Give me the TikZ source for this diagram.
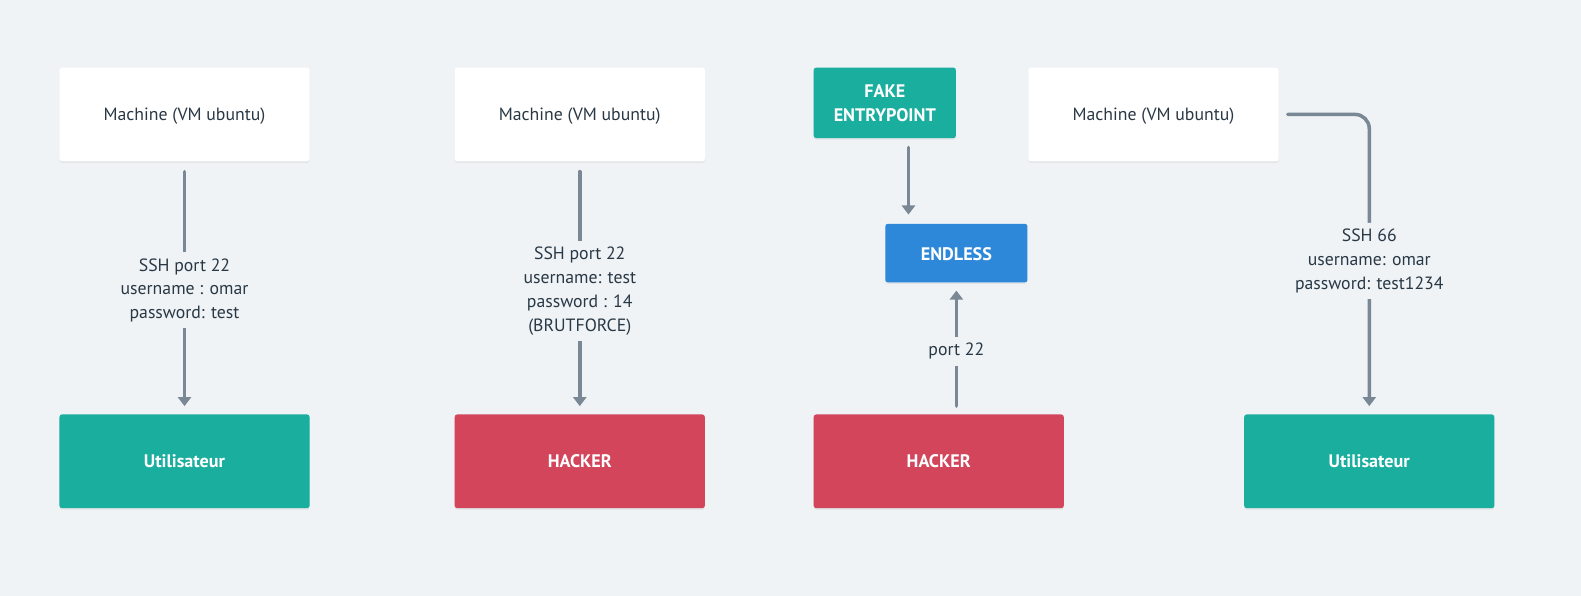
\documentclass[tikz,border=0pt]{standalone}
\usepackage{fontspec}
\setmainfont{PT Sans}
\usetikzlibrary{arrows.meta,shadows}
\definecolor{bg}{HTML}{EFF3F6}
\definecolor{teal}{HTML}{1AAE9F}
\definecolor{hred}{HTML}{D3455B}
\definecolor{hblue}{HTML}{2D88D9}
\definecolor{txt}{HTML}{293845}
\definecolor{conn}{HTML}{7A8794}
\newcommand{\dn}[2]{\raisebox{-#1}[\height][\depth]{#2}}
\tikzset{
  box/.style={rounded corners=2.5pt, inner sep=0pt, text centered,
    drop shadow={shadow xshift=0pt, shadow yshift=-1.5pt, opacity=0.12}},
  machine/.style={box, fill=white, minimum width=248pt, minimum height=93pt,
    font=\fontsize{17.6}{21}\selectfont, text=txt},
  colbox/.style={box, minimum width=248pt, minimum height=93pt,
    font=\bfseries\fontsize{18}{21}\selectfont, text=white},
  conn/.style={draw=conn, line width=3.5pt, line cap=round,
    -{Triangle[width=13pt,length=9pt,line cap=butt]}},
  lbl/.style={fill=bg, text=txt, align=center, inner xsep=2pt, inner ysep=6pt,
    font=\fontsize{17.6}{23.7}\selectfont}
}
\begin{document}
\begin{tikzpicture}[x=1pt,y=-1pt]
\useasboundingbox (0,0) rectangle (1568,591.1);
\fill[bg] (0,0) rectangle (1568,591.1);

% column 1
\node[machine] (m1) at (183,113.5) {\dn{2pt}{Machine (VM ubuntu)}};
\node[colbox, fill=teal] (u1) at (183,457.5) {Utilisateur};
\draw[conn, shorten <=10pt, shorten >=8pt] (m1.south) -- (u1.north)
  node[lbl, pos=0.5, yshift=-2.5pt] {SSH port 22\\username : omar\\password: test};

% column 2
\node[machine] (m2) at (575,113.5) {\dn{2pt}{Machine (VM ubuntu)}};
\node[colbox, fill=hred] (h1) at (575,457.5) {HACKER};
\draw[conn, shorten <=10pt, shorten >=8pt] (m2.south) -- (h1.north)
  node[lbl, pos=0.5, yshift=-3pt] {SSH port 22\\username: test\\password : 14\\(BRUTFORCE)};

% column 3
\node[colbox, fill=teal, minimum width=141pt, minimum height=70pt, align=center,
  font=\bfseries\fontsize{18}{24}\selectfont] (fe) at (877.5,102) {FAKE\\ENTRYPOINT};
\node[colbox, fill=hblue, minimum width=141pt, minimum height=58pt] (en) at (948.5,251) {\dn{1pt}{ENDLESS}};
\node[colbox, fill=hred] (h2) at (931,457.5) {HACKER};
\draw[conn, shorten <=9pt, shorten >=9pt] (fe.south -| 901,0) -- (en.north -| 901,0);
\draw[conn, shorten <=8pt, shorten >=8pt] (h2.north -| en.south) -- (en.south)
  node[lbl, pos=0.5, yshift=-3pt] {port 22};

% column 4
\node[machine] (m3) at (1144,113.5) {\dn{2pt}{Machine (VM ubuntu)}};
\node[colbox, fill=teal] (u2) at (1358,457.5) {Utilisateur};
\draw[conn, shorten <=9pt, shorten >=8pt, rounded corners=14pt] (m3.east) -- (m3.east -| u2.north) -- (u2.north)
  node[lbl, pos=0.48, yshift=-2.5pt] {SSH 66\\username: omar\\password: test1234};
\end{tikzpicture}
\end{document}
